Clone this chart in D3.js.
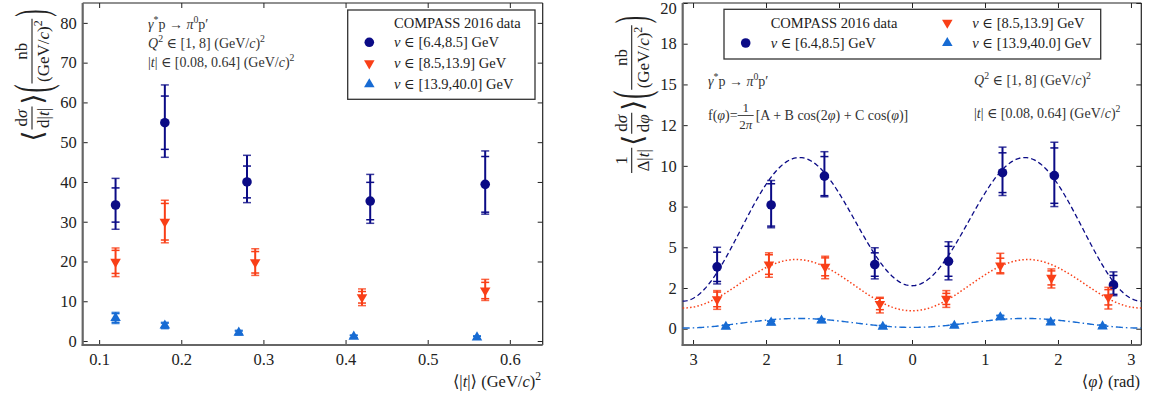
<!DOCTYPE html>
<html>
<head>
<meta charset="utf-8">
<script src="https://cdn.jsdelivr.net/npm/d3@7"></script>
<style>
  html, body { margin: 0; padding: 0; background: #fff; }
  svg, svg text { font-family: "Liberation Serif", "DejaVu Serif", serif; }
</style>
</head>
<body>
<div id="chart"></div>
<script>
// ---- data: left panel, <dsigma/d|t|> vs <|t|> ----
const tLow   = [0.12, 0.18, 0.28, 0.43, 0.57];
const sLow   = [34.2, 54.9, 40.0, 35.2, 39.4];
const sLowStat = [4.3, 6.7, 4.0, 4.7, 7.0];
const sLowUp   = [6.7, 9.5, 6.7, 6.7, 8.4];
const sLowDn   = [6.1, 8.7, 5.2, 5.6, 7.5];

const tMid   = [0.12, 0.18, 0.29, 0.42, 0.57];
const sMid   = [19.9, 30.0, 19.8, 11.0, 12.7];
const sMidStat = [2.9, 4.6, 2.7, 1.45, 2.05];
const sMidUp   = [3.5, 5.4, 3.4, 2.1, 2.8];
const sMidDn   = [3.7, 5.3, 3.3, 2.1, 2.5];

const tHigh  = [0.12, 0.18, 0.27, 0.41, 0.56];
const sHigh  = [5.8, 3.9, 2.1, 1.1, 0.9];
const sHighStat = [1.1, 0.6, 0.4, 0.3, 0.3];
const sHighUp   = [1.4, 0.8, 0.6, 0.4, 0.4];
const sHighDn   = [1.4, 0.8, 0.6, 0.4, 0.4];

// ---- data: right panel, 1/Δ|t| <dsigma/dphi> vs <phi> ----
const phiLow  = [-2.67, -1.93, -1.20, -0.51, 0.50, 1.24, 1.95, 2.76];
const fLow    = [3.8, 7.6, 9.37, 3.94, 4.14, 9.58, 9.4, 2.69];
const fLowStat = [0.9, 1.3, 1.2, 0.72, 0.92, 1.22, 1.7, 0.58];
const fLowUp   = [1.2, 1.5, 1.5, 1.03, 1.2, 1.57, 2.05, 0.8];
const fLowDn   = [1.05, 1.4, 1.27, 0.88, 1.14, 1.4, 1.9, 0.66];

const phiMid  = [-2.67, -1.96, -1.19, -0.44, 0.47, 1.21, 1.91, 2.69];
const fMid    = [1.8, 3.94, 3.8, 1.52, 1.83, 3.88, 3.12, 1.93];
const fMidStat = [0.45, 0.6, 0.55, 0.35, 0.34, 0.45, 0.43, 0.47];
const fMidUp   = [0.54, 0.72, 0.65, 0.41, 0.51, 0.75, 0.55, 0.61];
const fMidDn   = [0.61, 0.78, 0.73, 0.55, 0.52, 0.51, 0.62, 0.72];

const phiHigh = [-2.55, -1.93, -1.24, -0.40, 0.58, 1.21, 1.90, 2.61];
const fHigh   = [0.12, 0.37, 0.5, 0.12, 0.18, 0.7, 0.39, 0.14];
const fHighStat = [0.07, 0.08, 0.08, 0.06, 0.06, 0.09, 0.08, 0.07];
const fHighUp   = [0.1, 0.12, 0.12, 0.09, 0.09, 0.13, 0.12, 0.1];
const fHighDn   = [0.1, 0.12, 0.12, 0.09, 0.09, 0.13, 0.12, 0.1];

// fit parameters [A, B, C] of f(phi) = 1/2pi [A + B cos2phi + C cosphi]
const fitLow  = [39.8, -26.2, 2.98];
const fitMid  = [17.07, -9.63, -0.53];
const fitHigh = [2.17, -1.79, 0.125];

// ticks
const xTicksL = [0.1, 0.2, 0.3, 0.4, 0.5, 0.6];
const yTicksL = [0, 10, 20, 30, 40, 50, 60, 70, 80];
const xTicksR = [-3, -2, -1, 0, 1, 2, 3];
const yTicksR = [0, 2.5, 5, 7.5, 10, 12.5, 15, 17.5, 20];
const yTickLabelsR = ["0", "2", "5", "8", "10", "12", "15", "18", "20"];

const legendLabels = ["[6.4,8.5]", "[8.5,13.9]", "[13.9,40.0]"];

const cNavy = "#0b0b86", cRed = "#f93f17", cBlue = "#176bd3";
const FONT = '"Liberation Serif", "DejaVu Serif", serif';

const svg = d3.select("#chart").append("svg").attr("width", 1151).attr("height", 400)
  .attr("font-family", FONT).attr("fill", "#222");

// text with italic / superscript pieces
function rich(parent, x, y, pieces, size, anchor) {
  const t = parent.append("text").attr("x", x).attr("y", y)
    .style("font-family", FONT)
    .style("font-size", size + "px").attr("text-anchor", anchor || "start");
  let shift = 0;
  pieces.forEach(p => {
    const st = p[1] || "";
    const s = t.append("tspan").text(p[0]);
    let target = 0;
    if (st.includes("^")) { target = -size * 0.4; s.style("font-size", (size * 0.7) + "px"); }
    if (st.includes("i")) s.style("font-style", "italic");
    if (target !== shift) { s.attr("dy", target - shift); shift = target; }
  });
  return t;
}

// rotated y label made of fractions and delimiters
function yLabel(cx, cy, items, fs) {
  const g = svg.append("g").attr("transform", `translate(${cx},${cy}) rotate(-90)`);
  const inner = g.append("g");
  let cur = 0;
  items.forEach(it => {
    if (it.num) {
      const fg = inner.append("g").attr("transform", `translate(${cur},0)`);
      const n = rich(fg, 0, -5, it.num, fs, "middle");
      const d = rich(fg, 0, fs, it.den, fs, "middle");
      const w = Math.max(n.node().getComputedTextLength(), d.node().getComputedTextLength()) + 3;
      n.attr("x", w / 2); d.attr("x", w / 2);
      fg.append("line").attr("x1", 0).attr("x2", w).attr("y1", 0).attr("y2", 0)
        .attr("stroke", "#222").attr("stroke-width", 1.1);
      cur += w + 2;
    } else {
      const sg = inner.append("g").attr("transform", `translate(${cur},0) scale(1,${it.sy || 1})`);
      const t = rich(sg, 0, 0, it.pieces, it.size || fs, "start").attr("dominant-baseline", "central");
      cur += t.node().getComputedTextLength() + 1;
    }
  });
  inner.attr("transform", `translate(${-cur / 2},0)`);
}

function panel(box, xs, ys, xTicks, yTicks, xFmt, yFmt) {
  const g = svg.append("g");
  const tick = 5;
  g.append("g").attr("transform", `translate(0,${box.y1})`)
    .call(d3.axisBottom(xs).tickValues(xTicks).tickSizeInner(-tick).tickSizeOuter(0).tickPadding(8).tickFormat(xFmt));
  g.append("g").attr("transform", `translate(0,${box.y0})`)
    .call(d3.axisTop(xs).tickValues(xTicks).tickSizeInner(-tick).tickSizeOuter(0).tickFormat(""));
  g.append("g").attr("class", "yaxis-left").attr("transform", `translate(${box.x0},0)`)
    .call(d3.axisLeft(ys).tickValues(yTicks).tickSizeInner(-tick).tickSizeOuter(0).tickPadding(6).tickFormat(yFmt));
  g.append("g").attr("transform", `translate(${box.x1},0)`)
    .call(d3.axisRight(ys).tickValues(yTicks).tickSizeInner(-tick).tickSizeOuter(0).tickFormat(""));
  g.selectAll(".domain").remove();
  g.selectAll("g").attr("font-family", FONT);
  g.selectAll(".tick line").attr("stroke", "#222").attr("stroke-width", 1);
  g.selectAll(".tick text").style("font-family", FONT).style("font-size", "16.5px").attr("fill", "#222");
  // frame: top/right thin dark, left/bottom thicker grey
  g.append("line").attr("x1", box.x0).attr("x2", box.x1).attr("y1", box.y0).attr("y2", box.y0).attr("stroke", "#222").attr("stroke-width", 1.2);
  g.append("line").attr("x1", box.x1).attr("x2", box.x1).attr("y1", box.y0).attr("y2", box.y1).attr("stroke", "#222").attr("stroke-width", 1.2);
  g.append("line").attr("x1", box.x0).attr("x2", box.x0).attr("y1", box.y0).attr("y2", box.y1 + 1).attr("stroke", "#666").attr("stroke-width", 2.2);
  g.append("line").attr("x1", box.x0 - 1).attr("x2", box.x1).attr("y1", box.y1).attr("y2", box.y1).attr("stroke", "#666").attr("stroke-width", 2.2);
  return g;
}

function marker(g, kind, x, y, color) {
  if (kind === "circle") {
    g.append("circle").attr("cx", x).attr("cy", y).attr("r", 4.8).attr("fill", color);
  } else {
    g.append("path").attr("d", d3.symbol(d3.symbolTriangle, 48)())
      .attr("transform", `translate(${x},${y})${kind === "down" ? " rotate(180)" : ""}`)
      .attr("fill", color);
  }
}

function series(g, xs, ys, X, Y, stat, up, dn, color, kind) {
  X.forEach((xv, i) => {
    const x = xs(xv);
    g.append("line").attr("x1", x).attr("x2", x)
      .attr("y1", ys(Y[i] - dn[i])).attr("y2", ys(Y[i] + up[i]))
      .attr("stroke", color).attr("stroke-width", 2);
    [Y[i] - stat[i], Y[i] + stat[i], Y[i] - dn[i], Y[i] + up[i]].forEach((v, k) => {
      g.append("line").attr("x1", x - 4).attr("x2", x + 4).attr("y1", ys(v)).attr("y2", ys(v))
        .attr("stroke", color).attr("stroke-width", 1.5).attr("stroke-opacity", k < 2 ? 1 : 0.8);
    });
    marker(g, kind, x, ys(Y[i]), color);
  });
}

// ================= left panel =================
const boxL = { x0: 82.7, x1: 542.7, y0: 3, y1: 345 };
const xL = d3.scaleLinear().domain([0.08, 0.64]).range([boxL.x0, boxL.x1]);
const yL = d3.scaleLinear().domain([-1, 85]).range([boxL.y1, boxL.y0]);
const gL = panel(boxL, xL, yL, xTicksL, yTicksL, d3.format(".1f"), d3.format("d"));

series(gL, xL, yL, tLow, sLow, sLowStat, sLowUp, sLowDn, cNavy, "circle");
series(gL, xL, yL, tMid, sMid, sMidStat, sMidUp, sMidDn, cRed, "down");
series(gL, xL, yL, tHigh, sHigh, sHighStat, sHighUp, sHighDn, cBlue, "up");

// annotations
const ann = svg.append("g").attr("fill", "#333");
rich(ann, 148, 29, [["γ", "i"], ["*", "^"], ["p → "], ["π", "i"], ["0", "^"], ["p′"]], 14);
rich(ann, 148, 48, [["Q", "i"], ["2", "^"], [" ∈ [1, 8] (GeV/"], ["c", "i"], [")"], ["2", "^"]], 14);
rich(ann, 148, 67, [["|"], ["t", "i"], ["| ∈ [0.08, 0.64] (GeV/"], ["c", "i"], [")"], ["2", "^"]], 14);

// legend
const legL = svg.append("g");
legL.append("rect").attr("x", 347.7).attr("y", 10).attr("width", 187.3).attr("height", 89.3)
  .attr("fill", "#fff").attr("stroke", "#333").attr("stroke-width", 1.3);
rich(legL, 394, 28, [["COMPASS 2016 data"]], 14.5);
const kinds = ["circle", "down", "up"], cols = [cNavy, cRed, cBlue];
[42.3, 63.3, 84.3].forEach((y, i) => {
  marker(legL, kinds[i], 369.3, y, cols[i]);
  rich(legL, 394, y + 5, [["ν", "i"], [" ∈ " + legendLabels[i] + " GeV"]], 14.5);
});

// axis labels
rich(svg, 541, 387, [["⟨|"], ["t", "i"], ["|⟩ (GeV/"], ["c", "i"], [")"], ["2", "^"]], 16.5, "end");
yLabel(32, 75, [
  { pieces: [["⟨"]], size: 28 },
  { num: [["d"], ["σ", "i"]], den: [["d|"], ["t", "i"], ["|"]] },
  { pieces: [["⟩"]], size: 28 },
  { pieces: [["("]], size: 24, sy: 2.1 },
  { num: [["nb"]], den: [["(GeV/"], ["c", "i"], [")"], ["2", "^"]] },
  { pieces: [[")"]], size: 22, sy: 2.1 }
], 17);

// ================= right panel =================
const boxR = { x0: 682.7, x1: 1141.3, y0: 3, y1: 345 };
const xR = d3.scaleLinear().domain([-Math.PI, Math.PI]).range([boxR.x0, boxR.x1]);
const yR = d3.scaleLinear().domain([-1, 20]).range([boxR.y1, boxR.y0]);
const gR = panel(boxR, xR, yR, xTicksR, yTicksR, d => String(Math.abs(d)), (d, i) => yTickLabelsR[i]);
// keep the top label inside the page
gR.select(".yaxis-left").selectAll(".tick text").filter(d => d === 20).attr("dy", "0.62em");

// fit curves
function fitCurve(p, color, dash, width) {
  const pts = d3.range(0, 301).map(k => -Math.PI + k * 2 * Math.PI / 300);
  const line = d3.line()
    .x(d => xR(d))
    .y(d => yR((p[0] + p[1] * Math.cos(2 * d) + p[2] * Math.cos(d)) / (2 * Math.PI)));
  gR.append("path").attr("d", line(pts)).attr("fill", "none")
    .attr("stroke", color).attr("stroke-width", width).attr("stroke-dasharray", dash);
}
fitCurve(fitLow, cNavy, "5,3", 1.3);
fitCurve(fitMid, cRed, "1.5,2.2", 1.5);
fitCurve(fitHigh, cBlue, "7,3,1.5,3", 1.4);

series(gR, xR, yR, phiLow, fLow, fLowStat, fLowUp, fLowDn, cNavy, "circle");
series(gR, xR, yR, phiMid, fMid, fMidStat, fMidUp, fMidDn, cRed, "down");
series(gR, xR, yR, phiHigh, fHigh, fHighStat, fHighUp, fHighDn, cBlue, "up");

// legend (two columns)
const legR = svg.append("g");
legR.append("rect").attr("x", 724).attr("y", 9.3).attr("width", 376.7).attr("height", 49.7)
  .attr("fill", "#fff").attr("stroke", "#333").attr("stroke-width", 1.3);
rich(legR, 770.7, 28, [["COMPASS 2016 data"]], 14.5);
marker(legR, "circle", 745.7, 43, cNavy);
rich(legR, 770.7, 48, [["ν", "i"], [" ∈ " + legendLabels[0] + " GeV"]], 14.5);
marker(legR, "down", 947.3, 22.7, cRed);
rich(legR, 972.3, 28, [["ν", "i"], [" ∈ " + legendLabels[1] + " GeV"]], 14.5);
marker(legR, "up", 947.3, 43, cBlue);
rich(legR, 972.3, 48, [["ν", "i"], [" ∈ " + legendLabels[2] + " GeV"]], 14.5);

// annotations
const annR = svg.append("g").attr("fill", "#333");
rich(annR, 708, 86, [["γ", "i"], ["*", "^"], ["p → "], ["π", "i"], ["0", "^"], ["p′"]], 14);
rich(annR, 974, 85, [["Q", "i"], ["2", "^"], [" ∈ [1, 8] (GeV/"], ["c", "i"], [")"], ["2", "^"]], 14);
rich(annR, 974, 118, [["|"], ["t", "i"], ["| ∈ [0.08, 0.64] (GeV/"], ["c", "i"], [")"], ["2", "^"]], 14);
const fTxt = rich(annR, 708, 120, [["f("], ["φ", "i"], [")= "]], 14);
const fx = 708 + fTxt.node().getComputedTextLength();
const n1 = rich(annR, 0, 111.5, [["1"]], 13, "middle");
const d1 = rich(annR, 0, 129, [["2"], ["π", "i"]], 13, "middle");
const fw = Math.max(n1.node().getComputedTextLength(), d1.node().getComputedTextLength()) + 3;
n1.attr("x", fx + fw / 2); d1.attr("x", fx + fw / 2);
annR.append("line").attr("x1", fx).attr("x2", fx + fw).attr("y1", 115.5).attr("y2", 115.5)
  .attr("stroke", "#333").attr("stroke-width", 0.9);
rich(annR, fx + fw + 2, 120, [["[A + B cos(2"], ["φ", "i"], [") + C cos("], ["φ", "i"], [")]"]], 14);

// axis labels
rich(svg, 1140, 387, [["⟨"], ["φ", "i"], ["⟩ (rad)"]], 16.5, "end");
yLabel(631.7, 94, [
  { num: [["1"]], den: [["Δ|"], ["t", "i"], ["|"]] },
  { pieces: [["⟨"]], size: 28 },
  { num: [["d"], ["σ", "i"]], den: [["d"], ["φ", "i"]] },
  { pieces: [["⟩"]], size: 28 },
  { pieces: [["("]], size: 24, sy: 2.1 },
  { num: [["nb"]], den: [["(GeV/"], ["c", "i"], [")"], ["2", "^"]] },
  { pieces: [[")"]], size: 22, sy: 2.1 }
], 17);
</script>
</body>
</html>
